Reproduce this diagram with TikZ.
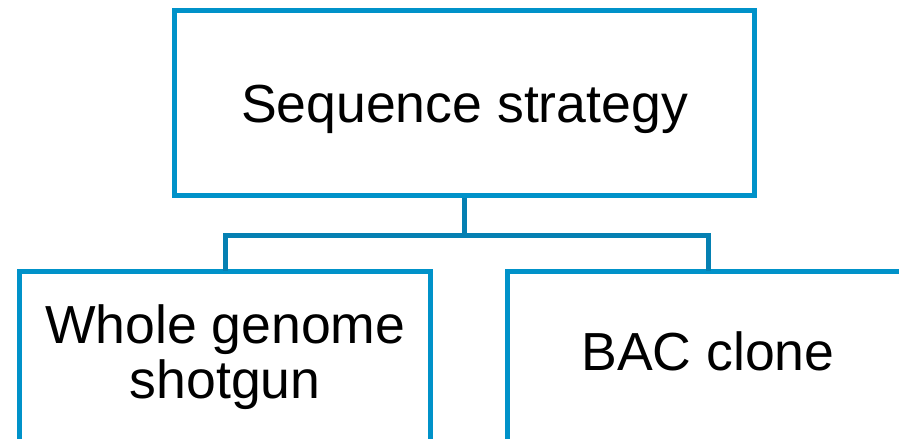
\documentclass[tikz,border=0pt]{standalone}
\usepackage{fontspec}
\setmainfont{Liberation Sans}
\definecolor{boxblue}{RGB}{0,146,201}
\definecolor{linkblue}{RGB}{5,128,178}

\begin{document}
\begin{tikzpicture}[x=0.02cm, y=-0.02cm,
    box/.style={draw=boxblue, line width=0.1cm, align=center,
      font=\fontsize{30.5}{31.5}\selectfont, inner sep=0pt},
    link/.style={draw=linkblue, line width=0.1cm}]
  % Page frame, the lower boxes run off its edges
  \useasboundingbox (0,0) rectangle (899,439);
  \clip (0,0) rectangle (899,439);

  % Boxes
  \node[box, minimum width=11.6cm, minimum height=3.7cm,
    text height=22pt, text depth=0pt] (strategy) at (464.5,103) {Sequence strategy};
  \node[box, minimum width=8.23cm, minimum height=3.42cm,
    text depth=0.2cm] (shotgun) at (225.25,356.5) {Whole genome\\shotgun};
  \node[box, minimum width=8.02cm, minimum height=3.42cm,
    text height=22pt, text depth=6.6pt] (bac) at (708,356.5) {BAC clone};

  % Tree connectors
  \coordinate (fork) at (464.5,235);
  \draw[link] (strategy.south) -- (fork);
  \draw[link, line cap=rect] (fork) -| (shotgun.north);
  \draw[link, line cap=rect] (fork) -| (bac.north);
\end{tikzpicture}
\end{document}
